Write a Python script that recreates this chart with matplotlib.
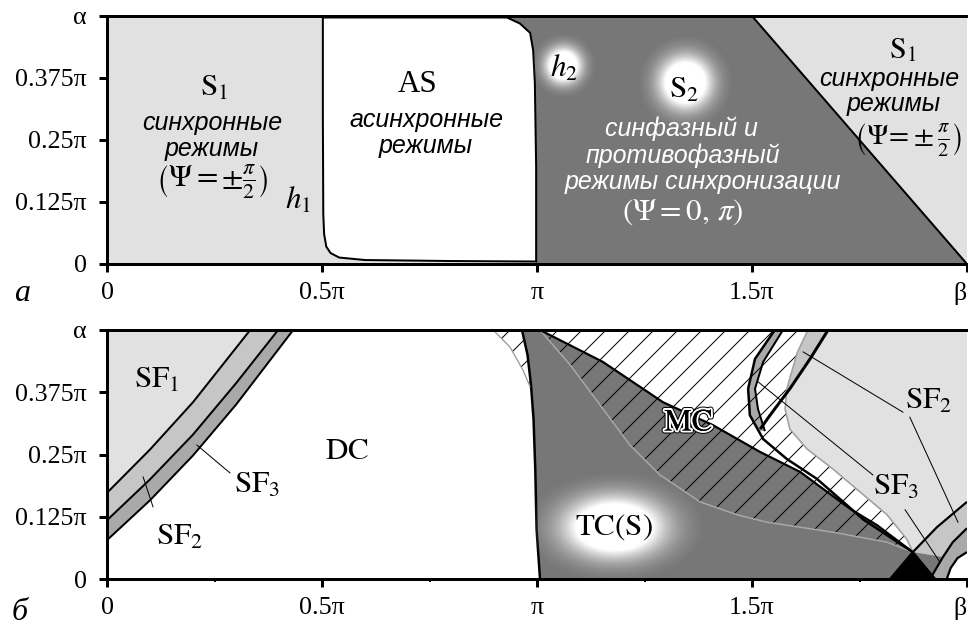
import numpy as np
import matplotlib
matplotlib.use("Agg")
import matplotlib.pyplot as plt
import matplotlib.patheffects as pe
from matplotlib.patches import Polygon

plt.rcParams["mathtext.fontset"] = "stix"
plt.rcParams["hatch.linewidth"] = 1.0
plt.rcParams["hatch.color"] = "black"

LIGHT = "#e1e1e1"
DARK = "#777777"
SF2C = "#c6c6c6"
SF3C = "#a9a9a9"
SERIF = "Liberation Serif"
SANS = "Liberation Sans"

# ---------------- data (β/π, α/π) ----------------
# panel a: bifurcation curves h1, h2 and the S2/S1 boundary
h1_beta = [0.502, 0.502, 0.503, 0.505, 0.510, 0.520, 0.540, 0.600, 0.800, 0.998]
h1_alpha = [0.497, 0.300, 0.100, 0.060, 0.035, 0.022, 0.013, 0.008, 0.006, 0.005]
h2_beta = [0.998, 0.998, 0.995, 0.991, 0.984, 0.960, 0.930, 0.502]
h2_alpha = [0.005, 0.196, 0.365, 0.431, 0.466, 0.485, 0.497, 0.497]
diag_beta = [1.5, 2.0]
diag_alpha = [0.5, 0.0]

# panel б: SF band borders on the left
sf_up_beta = [0.0, 0.10, 0.20, 0.333]
sf_up_alpha = [0.173, 0.26, 0.355, 0.5]
sf_mid_beta = [0.0, 0.10, 0.20, 0.30, 0.398]
sf_mid_alpha = [0.118, 0.20, 0.29, 0.393, 0.5]
sf_low_beta = [0.0, 0.10, 0.20, 0.30, 0.433]
sf_low_alpha = [0.078, 0.158, 0.248, 0.35, 0.5]

# DC / TC border (K) and thin grey border of the small hatched lens (G1)
k_beta = [0.965, 0.978, 0.986, 0.992, 0.996, 0.999, 1.007]
k_alpha = [0.5, 0.45, 0.39, 0.32, 0.22, 0.10, 0.0]
g1_beta = [0.898, 0.937, 0.967, 0.984]
g1_alpha = [0.5, 0.466, 0.42, 0.386]

# upper (M) and lower (G3) borders of the MC band
m_beta = [1.007, 1.153, 1.293, 1.409, 1.519, 1.612, 1.728, 1.791, 1.874, 1.926]
m_alpha = [0.5, 0.436, 0.355, 0.309, 0.255, 0.215, 0.141, 0.108, 0.054, 0.0]
g3_beta = [1.007, 1.077, 1.147, 1.216, 1.286, 1.379, 1.465, 1.535, 1.688, 1.814, 1.874]
g3_alpha = [0.5, 0.430, 0.349, 0.269, 0.209, 0.155, 0.129, 0.114, 0.094, 0.074, 0.054]

# S-shaped borders on the right
a_beta = [1.553, 1.507, 1.491, 1.495, 1.526, 1.581, 1.651, 1.712, 1.758, 1.814, 1.874]
a_alpha = [0.5, 0.442, 0.382, 0.329, 0.281, 0.241, 0.201, 0.155, 0.120, 0.088, 0.054]
b_beta = [1.572, 1.526, 1.507, 1.514, 1.530]
b_alpha = [0.5, 0.436, 0.382, 0.341, 0.297]
c_beta = [1.677, 1.635, 1.588, 1.542, 1.519]
c_alpha = [0.5, 0.442, 0.382, 0.329, 0.301]
g2_beta = [1.630, 1.605, 1.581, 1.577, 1.588, 1.628, 1.688, 1.751, 1.814, 1.860, 1.874]
g2_alpha = [0.5, 0.454, 0.382, 0.341, 0.301, 0.261, 0.221, 0.175, 0.129, 0.080, 0.054]

# arcs in the lower right corner
r1_beta = [1.821, 1.874, 1.930, 2.0]
r1_alpha = [0.0, 0.054, 0.104, 0.155]
r2_beta = [1.914, 1.944, 1.967, 2.0]
r2_alpha = [0.0, 0.044, 0.074, 0.102]
r3_beta = [1.953, 1.962, 1.978, 2.0]
r3_alpha = [0.0, 0.022, 0.042, 0.054]

x_ticks = [0, 0.5, 1.0, 1.5, 2.0]
x_labels = ["0", "0.5π", "π", "1.5π", "β"]
y_ticks = [0, 0.125, 0.25, 0.375, 0.5]
y_labels = ["0", "0.125π", "0.25π", "0.375π", "α"]


def pts(bs, als):
    return list(zip(bs, als))


def style_axes(ax, minor=False):
    ax.set_xlim(0, 2)
    ax.set_ylim(0, 0.5)
    ax.set_xticks(x_ticks)
    ax.set_xticklabels(x_labels, family=SERIF, fontsize=26)
    ax.set_yticks(y_ticks)
    ax.set_yticklabels(y_labels, family=SERIF, fontsize=26)
    ax.get_xticklabels()[-1].set_horizontalalignment("right")
    if minor:
        ax.set_xticks([0.25, 0.75, 1.25, 1.75], minor=True)
        ax.tick_params(axis="x", which="minor", direction="out", length=3, width=2)
    ax.tick_params(axis="y", direction="out", length=8, width=3, pad=12)
    ax.tick_params(axis="x", which="major", direction="out", length=8, width=3, pad=10)
    for s in ("left", "bottom", "top"):
        ax.spines[s].set_linewidth(3)
    ax.spines["right"].set_visible(False)
    for s in ax.spines.values():
        s.set_zorder(20)


def glow(ax, bx, ay, rx, ry, z=8):
    n = 121
    xs = np.linspace(-1, 1, n)
    X, Y = np.meshgrid(xs, xs)
    R2 = X ** 2 + Y ** 2
    a = np.clip(2.0 * np.exp(-3.2 * R2) * np.clip(1 - R2, 0, 1) ** 0.5, 0, 1)
    img = np.ones((n, n, 4))
    img[..., 3] = a
    ax.imshow(img, extent=(bx - rx, bx + rx, ay - ry, ay + ry), aspect="auto",
              zorder=z, interpolation="bilinear", origin="lower")


W, H = 968, 633
fig = plt.figure(figsize=(W / 72, H / 72), dpi=72)
axA = fig.add_axes([107 / W, (H - 264) / H, 860 / W, 248 / H])
axB = fig.add_axes([107 / W, (H - 579) / H, 860 / W, 249 / H])

# ---------------- panel a ----------------
ax = axA
ax.set_facecolor(LIGHT)
s2 = pts(h2_beta[:-1], h2_alpha[:-1]) + [(0.93, 0.5), (1.5, 0.5), (2.0, 0.0), (0.998, 0.0)]
ax.add_patch(Polygon(s2, closed=True, fc=DARK, ec="none", zorder=1))
as_poly = pts(h1_beta, h1_alpha) + pts(h2_beta, h2_alpha)
ax.add_patch(Polygon(as_poly, closed=True, fc="white", ec="black", lw=2, zorder=2))
ax.plot(diag_beta, diag_alpha, color="black", lw=2, zorder=3)

ital = dict(family=SANS, style="italic", fontsize=25, ha="center", va="center")
big = dict(fontsize=31, ha="center", va="center", zorder=10)
psi = dict(fontsize=31, ha="center", va="center")
ax.text(0.250, 0.355, r"$\mathrm{S}_1$", **big)
ax.text(0.244, 0.284, "синхронные", **ital)
ax.text(0.244, 0.232, "режимы", **ital)
ax.text(0.244, 0.165, r"$\left(\Psi = \pm\frac{\pi}{2}\right)$", **psi)
ax.text(0.444, 0.129, r"$h_1$", **big)
ax.text(0.723, 0.362, "AS", family=SERIF, fontsize=31, ha="center", va="center")
ax.text(0.744, 0.290, "асинхронные", **ital)
ax.text(0.742, 0.238, "режимы", **ital)
glow(ax, 1.062, 0.399, 0.075, 0.065)
ax.text(1.062, 0.395, r"$h_2$", **big)
glow(ax, 1.345, 0.365, 0.11, 0.095)
ax.text(1.342, 0.352, r"$\mathrm{S}_2$", **big)
wital = dict(ital, color="white")
ax.text(1.337, 0.272, "синфазный и", **wital)
ax.text(1.340, 0.218, "противофазный", **wital)
ax.text(1.385, 0.166, "режимы синхронизации", **wital)
ax.text(1.340, 0.105, r"$\left(\Psi = 0,\,\pi\right)$", color="white", **psi)
ax.text(1.850, 0.432, r"$\mathrm{S}_1$", fontsize=30, ha="center", va="center")
ax.text(1.819, 0.372, "синхронные", **ital)
ax.text(1.830, 0.322, "режимы", **ital)
ax.text(1.862, 0.252, r"$\left(\Psi\!=\!\pm\frac{\pi}{2}\right)$", fontsize=29, ha="center", va="center")
style_axes(ax)

# ---------------- panel б ----------------
ax = axB
ax.set_facecolor("white")
# left SF bands
ax.add_patch(Polygon(pts(sf_up_beta, sf_up_alpha) + [(0.0, 0.5)], closed=True, fc=LIGHT, ec="none", zorder=1))
ax.add_patch(Polygon(pts(sf_up_beta, sf_up_alpha) + pts(sf_mid_beta, sf_mid_alpha)[::-1],
                     closed=True, fc=SF2C, ec="none", zorder=1))
ax.add_patch(Polygon(pts(sf_mid_beta, sf_mid_alpha) + pts(sf_low_beta, sf_low_alpha)[::-1],
                     closed=True, fc=SF3C, ec="none", zorder=1))

# hatched region above the MC border (multistability)
ax.add_patch(Polygon(pts(m_beta, m_alpha) + [(2.0, 0.0), (2.0, 0.5)], closed=True,
                     fc="white", ec="black", lw=0, hatch="/", zorder=1))
# small hatched lens next to the DC border
ag = np.linspace(0.386, 0.5, 40)
ax.fill_betweenx(ag, np.interp(ag, g1_alpha[::-1], g1_beta[::-1]),
                 np.interp(ag, k_alpha[::-1], k_beta[::-1]),
                 fc="white", ec="black", lw=0, hatch="/", zorder=1)

# TC(S) region
tc = pts(k_beta, k_alpha) + pts(m_beta, m_alpha)[::-1]
ax.add_patch(Polygon(tc, closed=True, fc=DARK, ec="none", zorder=2))
# hatched dark MC band
mc = pts(m_beta[:-1], m_alpha[:-1]) + pts(g3_beta, g3_alpha)[::-1]
ax.add_patch(Polygon(mc, closed=True, fc="none", ec="black", lw=0, hatch="/", zorder=3))

# SF2 light region on the right
ag = np.linspace(0.054, 0.5, 300)
g2i = np.interp(ag, g2_alpha[::-1], g2_beta[::-1])
ci = np.interp(ag, c_alpha[::-1], c_beta[::-1], left=np.nan)
right_edge = np.where(np.isnan(ci), g2i, np.maximum(ci, g2i))
ax.fill_betweenx(ag, right_edge, 2.0, fc=LIGHT, ec="none", zorder=2)
# bands between the S-shaped borders
agu = np.linspace(0.301, 0.5, 200)
g2u = np.interp(agu, g2_alpha[::-1], g2_beta[::-1])
cu = np.interp(agu, c_alpha[::-1], c_beta[::-1])
ax.fill_betweenx(agu, g2u, cu, where=cu > g2u, interpolate=True, fc=SF2C, ec="none", zorder=2.5)
agb = np.linspace(0.297, 0.5, 200)
au = np.interp(agb, a_alpha[::-1], a_beta[::-1])
bu = np.interp(agb, b_alpha[::-1], b_beta[::-1])
ax.fill_betweenx(agb, au, bu, where=bu > au, interpolate=True, fc=SF3C, ec="black", lw=0,
                 hatch="/", zorder=2.5)

# arcs in the lower right corner
ax.add_patch(Polygon(pts(r1_beta, r1_alpha) + [(2.0, 0.0)], closed=True, fc=SF2C, ec="none", zorder=3))
ax.add_patch(Polygon(pts(r2_beta, r2_alpha) + [(2.0, 0.0)], closed=True, fc=SF3C, ec="none", zorder=3))
ax.add_patch(Polygon(pts(r3_beta, r3_alpha) + [(2.0, 0.0)], closed=True, fc="white", ec="none", zorder=3))
blk = pts(r1_beta[:2], r1_alpha[:2]) + pts(m_beta[-1:], m_alpha[-1:])
ax.add_patch(Polygon(blk, closed=True, fc="black", ec="none", zorder=3.5))
ax.add_patch(Polygon([blk[1], blk[2], (r2_beta[0], 0.0), (r2_beta[1], r2_alpha[1])], closed=True,
                     fc=DARK, ec="none", zorder=3.4))

# borders
for bs, als, lw, col in [
    (sf_up_beta, sf_up_alpha, 2, "black"),
    (sf_mid_beta, sf_mid_alpha, 2, "black"),
    (sf_low_beta, sf_low_alpha, 2, "black"),
    (k_beta, k_alpha, 2.5, "black"),
    (g1_beta, g1_alpha, 1.3, "#9a9a9a"),
    (g3_beta, g3_alpha, 1.5, "#a8a8a8"),
    (m_beta, m_alpha, 2.2, "black"),
    (g2_beta, g2_alpha, 1.6, "#a0a0a0"),
    (a_beta, a_alpha, 2.5, "black"),
    (b_beta, b_alpha, 2.0, "black"),
    (c_beta, c_alpha, 3.0, "black"),
    (r1_beta, r1_alpha, 2.2, "black"),
    (r2_beta, r2_alpha, 2.2, "black"),
    (r3_beta, r3_alpha, 2.2, "black"),
]:
    ax.plot(bs, als, color=col, lw=lw, zorder=5, solid_capstyle="butt")

# leader lines
for (x0, y0), (x1, y1) in [
    ((0.107, 0.145), (0.084, 0.205)),
    ((0.286, 0.213), (0.209, 0.269)),
    ((1.851, 0.335), (1.619, 0.456)),
    ((1.867, 0.325), (1.979, 0.114)),
    ((1.781, 0.209), (1.514, 0.396)),
    ((1.856, 0.139), (1.937, 0.034)),
]:
    ax.plot([x0, x1], [y0, y1], color="black", lw=1, zorder=6)

ax.text(0.116, 0.400, r"$\mathrm{SF}_1$", **big)
ax.text(0.349, 0.190, r"$\mathrm{SF}_3$", **big)
ax.text(0.170, 0.086, r"$\mathrm{SF}_2$", **big)
ax.text(0.558, 0.259, r"$\mathrm{DC}$", **big)
glow(ax, 1.179, 0.104, 0.21, 0.11)
ax.text(1.179, 0.104, r"$\mathrm{TC(S)}$", **big)
ax.text(1.353, 0.315, r"$\mathrm{MC}$",
        path_effects=[pe.withStroke(linewidth=6, foreground="black"),
                      pe.withStroke(linewidth=4, foreground="white"), pe.Normal()], **big)
ax.text(1.910, 0.358, r"$\mathrm{SF}_2$", **big)
ax.text(1.835, 0.185, r"$\mathrm{SF}_3$", **big)
style_axes(ax, minor=True)

fig.text(22 / W, 1 - 293 / H, "а", family=SERIF, style="italic", fontsize=32, ha="center", va="center")
fig.text(20 / W, 1 - 612 / H, "б", family=SERIF, style="italic", fontsize=32, ha="center", va="center")

fig.savefig("out.png", dpi=72, facecolor="white")
